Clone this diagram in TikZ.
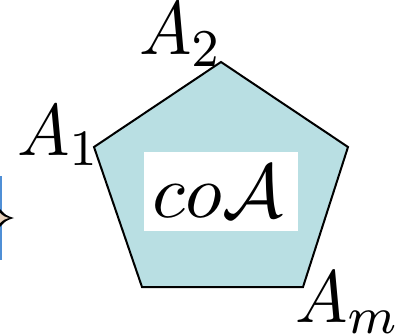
\documentclass[tikz,border=0pt]{standalone}
\usepackage{graphicx}
\definecolor{polyfill}{HTML}{B9DFE3}
\definecolor{bracebl}{HTML}{4F8FD6}
\begin{document}
\begin{tikzpicture}[x=1pt,y=-1pt,
  lbl/.style={inner sep=0pt,anchor=base west},
  edge/.style={draw=black,line width=2pt,line join=miter,fill=polyfill}]
\useasboundingbox (0,0) rectangle (403,334);
% vertices
\coordinate (v2) at (221,62);
\coordinate (vr) at (348,147);
\coordinate (vm) at (303,287);
\coordinate (vbl) at (142,287);
\coordinate (v1) at (94,147);
\path[edge] (v2) -- (vr) -- (vm) -- (vbl) -- (v1) -- cycle;
% white box with text
\fill[white] (144,152) rectangle (298,231);
\node[inner sep=0pt,anchor=base] (co) at (218,217) {\scalebox{7.6}{$co\mathcal{A}$}};
% labels
\node[lbl] (l2) at (139,55) {\scalebox{7}[7.6]{$A_2$}};
\node[lbl] (l1) at (17,155) {\scalebox{7}[7.3]{$A_1$}};
\node[lbl] (lm) at (295,322) {\scalebox{7}[7.4]{$A_m$}};
% partial brace at left edge
\draw[bracebl,line width=2.4pt] (1.2,176) -- (1.2,260);
\fill[black] (0,209) .. controls (6,215.5) .. (14,218) .. controls (6,220.5) .. (0,227) -- cycle;
\fill[brown!35] (0,213) .. controls (4,216.5) .. (9,218) .. controls (4,219.5) .. (0,223) -- cycle;
\end{tikzpicture}
\end{document}
